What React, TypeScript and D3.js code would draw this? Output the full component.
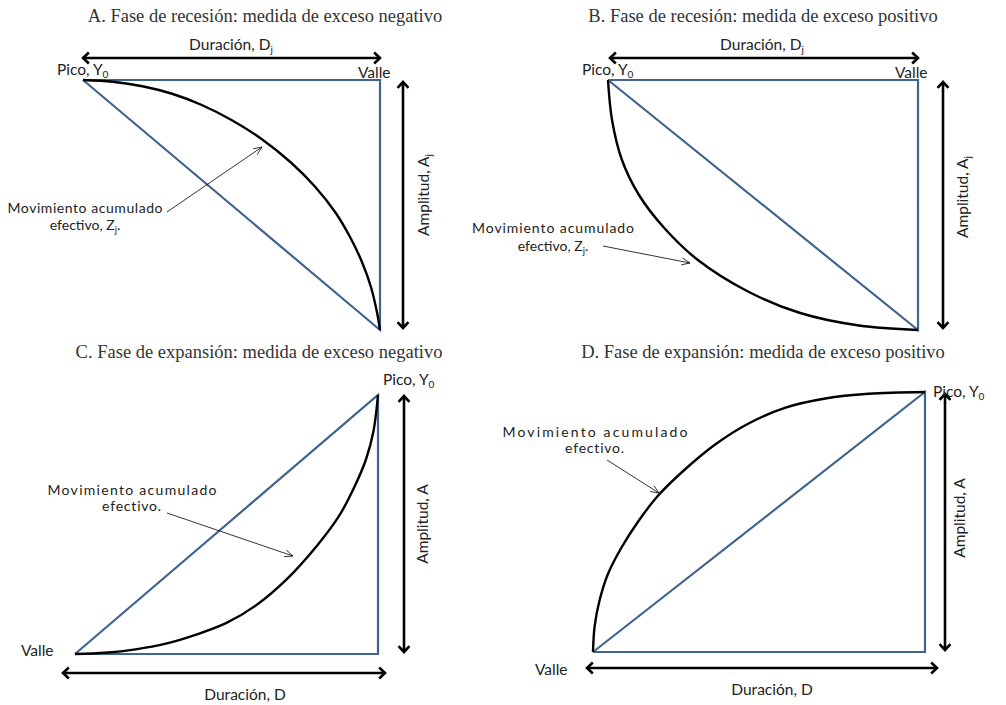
import React, { useEffect, useRef } from 'react';
import * as d3 from 'd3';

// Titles of the four panels
const panelTitles = [
  'A. Fase de recesión: medida de exceso negativo',
  'B. Fase de recesión: medida de exceso positivo',
  'C. Fase de expansión: medida de exceso negativo',
  'D. Fase de expansión: medida de exceso positivo',
];

// '_' marks the next character as a subscript
const durationLabels = ['Duración, D_j', 'Duración, D_j', 'Duración, D', 'Duración, D'];
const amplitudeLabels = ['Amplitud, A_j', 'Amplitud, A_j', 'Amplitud, A', 'Amplitud, A'];
const peakLabel = 'Pico, Y_0';
const troughLabel = 'Valle';
const noteFirstLine = 'Movimiento acumulado';
const noteSecondLines = ['efectivo, Z_j.', 'efectivo, Z_j.', 'efectivo.', 'efectivo.'];

// cumulative movement, as (share of duration, share of amplitude)
const curveA: [number, number][] = [
  [0, 1], [0.1, 0.993], [0.2, 0.975], [0.3, 0.945], [0.4, 0.9], [0.5, 0.84], [0.6, 0.765],
  [0.7, 0.67], [0.78, 0.575], [0.85, 0.47], [0.9, 0.37], [0.94, 0.27], [0.97, 0.17],
  [0.99, 0.07], [1, 0],
];
const curveB: [number, number][] = [
  [0, 1], [0.013, 0.84], [0.045, 0.68], [0.1, 0.54], [0.18, 0.41], [0.29, 0.28],
  [0.45, 0.155], [0.62, 0.068], [0.81, 0.018], [1, 0],
];
const curveC: [number, number][] = [
  [0, 0], [0.1, 0.005], [0.2, 0.018], [0.3, 0.04], [0.4, 0.075], [0.5, 0.12], [0.6, 0.19],
  [0.7, 0.29], [0.8, 0.42], [0.87, 0.53], [0.92, 0.64], [0.96, 0.75], [0.985, 0.86], [1, 1],
];
const curveD: [number, number][] = [
  [0, 0], [0.005, 0.1], [0.02, 0.2], [0.045, 0.3], [0.085, 0.4], [0.135, 0.5], [0.195, 0.6],
  [0.275, 0.7], [0.37, 0.8], [0.47, 0.88], [0.58, 0.94], [0.7, 0.975], [0.83, 0.993], [1, 1],
];

// straight-line benchmark triangles
const triangleRecession: [number, number][] = [[0, 1], [1, 1], [1, 0], [0, 1]];
const triangleExpansion: [number, number][] = [[0, 0], [1, 0], [1, 1], [0, 0]];

const W = 1006;
const H = 705;
const BLUE = '#41648f';
const SANS = 'Lato, "Open Sans", sans-serif';
const SERIF = '"Liberation Serif", "DejaVu Serif", serif';

const panels = [
  {
    curve: curveA, tri: triangleRecession, x0: 83, x1: 380, yTop: 80, yBot: 330, titleX: 265, titleY: 22,
    dur: { y: 58, x0: 83, x1: 380, lx: 231, ly: 50 },
    amp: { x: 403, y0: 82, y1: 328, lx: 429, ly: 195 },
    pico: { x: 57, y: 75 }, valle: { x: 358, y: 78 },
    note: { cx: 85, y: 213, gap: 17, w: 155 }, pointer: [167, 212, 262, 147],
  },
  {
    curve: curveB, tri: triangleRecession, x0: 608, x1: 918, yTop: 80, yBot: 330, titleX: 763, titleY: 22,
    dur: { y: 58, x0: 610, x1: 918, lx: 762, ly: 50 },
    amp: { x: 943, y0: 82, y1: 328, lx: 968, ly: 197 },
    pico: { x: 582, y: 75 }, valle: { x: 895, y: 78 },
    note: { cx: 553, y: 233, gap: 18, w: 162 }, pointer: [603, 246, 690, 263],
  },
  {
    curve: curveC, tri: triangleExpansion, x0: 75, x1: 378, yTop: 395, yBot: 654, titleX: 259, titleY: 358,
    dur: { y: 673, x0: 63, x1: 385, lx: 245, ly: 700 },
    amp: { x: 404, y0: 396, y1: 652, lx: 428, ly: 524 },
    pico: { x: 383, y: 385 }, valle: { x: 21, y: 656 },
    note: { cx: 132, y: 495, gap: 16, w: 169 }, pointer: [167, 513, 293, 556],
  },
  {
    curve: curveD, tri: triangleExpansion, x0: 593, x1: 925, yTop: 392, yBot: 652, titleX: 763, titleY: 358,
    dur: { y: 668, x0: 587, x1: 937, lx: 772, ly: 695 },
    amp: { x: 945, y0: 394, y1: 650, lx: 965, ly: 518 },
    pico: { x: 933, y: 397 }, valle: { x: 535, y: 675 },
    note: { cx: 595, y: 437, gap: 16, w: 185 }, pointer: [607, 460, 659, 493],
  },
];

type Sel = d3.Selection<SVGGElement, unknown, null, undefined>;

// writes a label, turning '_x' into a subscript x
const writeLabel = (text: d3.Selection<SVGTextElement, unknown, null, undefined>, label: string, subSize: number) => {
  const parts = label.split('_');
  text.append('tspan').text(parts[0]);
  parts.slice(1).forEach(p => {
    text.append('tspan').attr('font-size', subSize).attr('dy', 3).text(p[0]);
    if (p.length > 1) text.append('tspan').attr('dy', -3).text(p.slice(1));
  });
};

const arrowHead = (g: Sel, tx: number, ty: number, angle: number, len: number, spread: number, width: number) => {
  const a1 = angle + Math.PI - spread;
  const a2 = angle + Math.PI + spread;
  g.append('path')
    .attr('d', `M${tx + len * Math.cos(a1)},${ty + len * Math.sin(a1)}L${tx},${ty}L${tx + len * Math.cos(a2)},${ty + len * Math.sin(a2)}`)
    .attr('fill', 'none')
    .attr('stroke', '#000')
    .attr('stroke-width', width)
    .attr('stroke-linejoin', 'miter');
};

const doubleArrow = (g: Sel, x0: number, y0: number, x1: number, y1: number) => {
  g.append('line')
    .attr('x1', x0).attr('y1', y0).attr('x2', x1).attr('y2', y1)
    .attr('stroke', '#000').attr('stroke-width', 2.6);
  const ang = Math.atan2(y1 - y0, x1 - x0);
  arrowHead(g, x1, y1, ang, 8, 0.75, 2.6);
  arrowHead(g, x0, y0, ang + Math.PI, 8, 0.75, 2.6);
};

const App: React.FC = () => {
  const svgRef = useRef<SVGSVGElement>(null);

  useEffect(() => {
    if (!svgRef.current) return;
    const svg = d3.select(svgRef.current).html('');
    svg.append('rect').attr('width', W).attr('height', H).attr('fill', '#fff');

    panels.forEach((p, i) => {
      const g = svg.append('g') as Sel;
      const x = d3.scaleLinear().domain([0, 1]).range([p.x0, p.x1]);
      const y = d3.scaleLinear().domain([0, 1]).range([p.yBot, p.yTop]);

      // Title
      g.append('text')
        .attr('x', p.titleX).attr('y', p.titleY)
        .attr('text-anchor', 'middle')
        .attr('font-family', SERIF).attr('font-size', 18.5)
        .attr('fill', '#333')
        .text(panelTitles[i]);

      // Triangle
      const straight = d3.line<[number, number]>().x(d => x(d[0])).y(d => y(d[1]));
      g.append('path')
        .attr('d', straight(p.tri))
        .attr('fill', 'none')
        .attr('stroke', BLUE)
        .attr('stroke-width', 2.2)
        .attr('stroke-linejoin', 'miter');

      // Cumulative movement curve
      const smooth = d3.line<[number, number]>()
        .x(d => x(d[0])).y(d => y(d[1]))
        .curve(d3.curveCatmullRom.alpha(0.5));
      g.append('path')
        .attr('d', smooth(p.curve))
        .attr('fill', 'none')
        .attr('stroke', '#000')
        .attr('stroke-width', 2.4);

      // Duration arrow
      doubleArrow(g, p.dur.x0, p.dur.y, p.dur.x1, p.dur.y);
      const dl = g.append('text')
        .attr('x', p.dur.lx).attr('y', p.dur.ly)
        .attr('text-anchor', 'middle')
        .attr('font-family', SANS).attr('font-size', 15.5).attr('fill', '#222');
      writeLabel(dl, durationLabels[i], 10);

      // Amplitude arrow
      doubleArrow(g, p.amp.x, p.amp.y0, p.amp.x, p.amp.y1);
      const al = g.append('text')
        .attr('transform', `translate(${p.amp.lx},${p.amp.ly}) rotate(-90)`)
        .attr('text-anchor', 'middle')
        .attr('font-family', SANS).attr('font-size', 15.5).attr('fill', '#222');
      writeLabel(al, amplitudeLabels[i], 10);

      // Peak and trough
      const pl = g.append('text')
        .attr('x', p.pico.x).attr('y', p.pico.y)
        .attr('font-family', SANS).attr('font-size', 15.5).attr('fill', '#222');
      writeLabel(pl, peakLabel, 10);
      g.append('text')
        .attr('x', p.valle.x).attr('y', p.valle.y)
        .attr('font-family', SANS).attr('font-size', 15.5).attr('fill', '#222')
        .text(troughLabel);

      // Note and pointer
      g.append('text')
        .attr('x', p.note.cx).attr('y', p.note.y)
        .attr('text-anchor', 'middle')
        .attr('font-family', SANS).attr('font-size', 14).attr('fill', '#222')
        .attr('textLength', p.note.w).attr('lengthAdjust', 'spacing')
        .text(noteFirstLine);
      const n2 = g.append('text')
        .attr('x', p.note.cx).attr('y', p.note.y + p.note.gap)
        .attr('text-anchor', 'middle')
        .attr('font-family', SANS).attr('font-size', 14).attr('fill', '#222')
        .attr('letter-spacing', i >= 2 ? 0.8 : 0);
      writeLabel(n2, noteSecondLines[i], 9.5);

      const [px0, py0, px1, py1] = p.pointer;
      g.append('line')
        .attr('x1', px0).attr('y1', py0).attr('x2', px1).attr('y2', py1)
        .attr('stroke', '#000').attr('stroke-width', 0.8);
      arrowHead(g, px1, py1, Math.atan2(py1 - py0, px1 - px0), 9, 0.4, 0.8);
    });
  }, []);

  return (
    <svg
      ref={svgRef}
      width={W}
      height={H}
      viewBox={`0 0 ${W} ${H}`}
      style={{ position: 'absolute', left: 0, top: 0, display: 'block' }}
    />
  );
};

export default App;
